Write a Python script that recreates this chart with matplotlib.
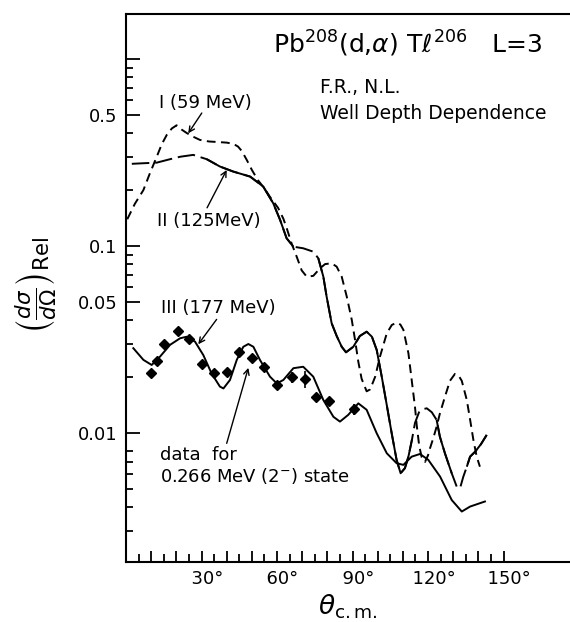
import numpy as np
import matplotlib.pyplot as plt
from matplotlib.ticker import FixedLocator, NullFormatter

# curve I : 59 MeV well depth (dashed)
theta_59 = [0.5, 3.5, 6.9, 9.5, 12.2, 14.2, 16.2, 18.2, 20.1, 22.0, 24.1, 26.5, 29.4,
            33.0, 36.0, 40.0, 42.6, 44.5, 46.0, 48.0, 50.0, 52.4, 55.0, 57.2, 60.4,
            62.5, 63.8, 65.8, 67.8, 69.8, 71.8, 74.4, 77.1, 79.1, 81.7, 83.7, 85.7,
            87.7, 89.7, 91.0, 92.3, 93.6, 95.6, 97.0, 99.0, 100.9, 103.6, 105.6,
            107.5, 109.0, 110.2, 112.2, 113.5, 114.8, 115.5, 116.5, 117.5, 118.8,
            120.0, 120.8, 122.1, 123.4, 124.7, 126.7, 128.7, 130.7, 132.2, 133.4,
            135.4, 136.7, 138.0, 139.3, 140.6]
sigma_59 = [0.139, 0.168, 0.199, 0.245, 0.300, 0.350, 0.393, 0.425, 0.442, 0.420, 0.402,
            0.385, 0.369, 0.362, 0.360, 0.357, 0.352, 0.340, 0.322, 0.288, 0.255, 0.225,
            0.203, 0.183, 0.160, 0.140, 0.125, 0.103, 0.0877, 0.0740, 0.0685, 0.0692,
            0.0760, 0.0800, 0.0808, 0.0775, 0.0685, 0.0536, 0.0402, 0.0314, 0.0240,
            0.0195, 0.0167, 0.0171, 0.0200, 0.0256, 0.0341, 0.0378, 0.0389, 0.0380,
            0.0356, 0.0267, 0.0192, 0.0138, 0.0110, 0.0085, 0.0074, 0.0070, 0.0076,
            0.0083, 0.0094, 0.0108, 0.0127, 0.0156, 0.0190, 0.0207, 0.0202, 0.0190,
            0.0150, 0.0118, 0.0092, 0.0075, 0.0066]

# curve II : 125 MeV well depth (long dashes / solid)
theta_125 = [2.3, 7.0, 12.2, 17.0, 21.5, 26.7, 32.1, 37.3, 42.6, 49.3, 54.5, 58.5, 61.2,
             63.8, 66.5, 70.4, 74.4, 76.4, 78.4, 79.7, 81.7, 83.7, 85.7, 87.4, 90.3,
             92.9, 95.6, 97.7, 99.6, 101.6, 103.6, 105.6, 107.5, 109.1, 110.8, 112.2,
             113.6, 114.8, 116.4, 118.0, 119.5, 121.5, 123.4, 124.7, 126.7, 129.4,
             131.4, 132.7, 134.0, 135.4, 136.7, 138.7, 141.0, 143.3]
sigma_125 = [0.275, 0.277, 0.279, 0.290, 0.300, 0.307, 0.291, 0.266, 0.250, 0.235, 0.208,
             0.169, 0.138, 0.110, 0.0991, 0.0972, 0.0932, 0.0859, 0.0685, 0.0536, 0.0386,
             0.0330, 0.0289, 0.0270, 0.0289, 0.0330, 0.0348, 0.0327, 0.0278, 0.0200,
             0.0141, 0.00988, 0.00718, 0.00609, 0.00648, 0.00747, 0.0092, 0.0113,
             0.0129, 0.0134, 0.01355, 0.0129, 0.01175, 0.00955, 0.00779, 0.00609,
             0.00516, 0.00506, 0.00583, 0.0066, 0.00747, 0.00794, 0.0087, 0.00976]
solid_125 = [(32.1, 66.5), (76.4, 113.6), (123.4, 129.4), (135.4, 143.3)]

# curve III : 177 MeV well depth (solid)
theta_177 = [2.9, 6.9, 10.2, 13.5, 17.5, 21.5, 24.1, 27.4, 30.7, 34.0, 37.3, 38.7, 41.3,
             44.0, 46.6, 48.6, 50.6, 53.2, 57.2, 59.9, 62.5, 66.5, 70.4, 74.4, 78.4,
             82.4, 85.0, 88.3, 92.3, 95.6, 99.6, 103.6, 107.5, 110.2, 113.5, 116.8,
             120.1, 124.8, 129.4, 133.4, 136.7, 142.6]
sigma_177 = [0.0284, 0.0246, 0.0231, 0.0256, 0.0296, 0.0321, 0.0327, 0.0308, 0.0261,
             0.0208, 0.0177, 0.0173, 0.0192, 0.0246, 0.0289, 0.0299, 0.0289, 0.0246,
             0.0200, 0.0184, 0.0192, 0.0222, 0.0226, 0.0200, 0.0150, 0.0122, 0.0115,
             0.0125, 0.0144, 0.0133, 0.00996, 0.00779, 0.00689, 0.00675, 0.00747,
             0.00772, 0.00718, 0.00584, 0.00438, 0.00380, 0.00404, 0.00430]

# measured points, 0.266 MeV (2-) state
theta_data = [10, 12.5, 15, 20.5, 25, 30, 35, 40, 45, 50, 55, 60, 66, 71, 75.5, 80.5, 90.5]
sigma_data = [0.0210, 0.0243, 0.0299, 0.0351, 0.0317, 0.0234, 0.0210, 0.0213, 0.0270,
              0.0253, 0.0226, 0.0181, 0.0198, 0.0194, 0.0155, 0.0148, 0.0134]
rel_err = [0.04, 0.04, 0.04, 0.04, 0.04, 0.04, 0.04, 0.04, 0.04, 0.05, 0.04, 0.05,
           0.07, 0.10, 0.05, 0.05, 0.07]

y_major = [0.01, 0.05, 0.1, 0.5, 1.0]
y_major_labels = ['0.01', '0.05', '0.1', '0.5', '']
y_minor = [0.003, 0.004, 0.005, 0.006, 0.007, 0.008, 0.02, 0.03, 0.04,
           0.06, 0.07, 0.08, 0.09, 0.2, 0.3, 0.4, 0.6, 0.7, 0.8, 0.9]

fig = plt.figure(figsize=(5.7, 6.22), dpi=100)
ax = fig.add_axes([0.2211, 0.0965, 0.7789, 0.881])

lw = 1.4
ax.plot(theta_59, sigma_59, color='black', lw=lw, linestyle=(0, (4.5, 2.8)))

t125 = np.array(theta_125)
s125 = np.array(sigma_125)
ax.plot(t125, s125, color='black', lw=lw, linestyle=(0, (9, 3)))
for lo, hi in solid_125:
    m = (t125 >= lo) & (t125 <= hi)
    ax.plot(t125[m], s125[m], color='black', lw=lw, solid_capstyle='butt')

ax.plot(theta_177, sigma_177, color='black', lw=lw)

s_data = np.array(sigma_data)
ax.errorbar(theta_data, s_data, yerr=s_data * np.array(rel_err), fmt='D',
            color='black', ms=5.5, elinewidth=1.2, capsize=0)

ax.set_yscale('log')
ax.set_xlim(0, 176.4)
ax.set_ylim(0.002042, 1.74)

ax.xaxis.set_major_locator(FixedLocator(range(10, 151, 10)))
ax.xaxis.set_minor_locator(FixedLocator(range(5, 150, 10)))
# leading spaces keep the digits, not the degree sign, centred on the tick
ax.set_xticklabels([f'  {t}°' if t % 30 == 0 else '' for t in range(10, 151, 10)])
ax.xaxis.set_minor_formatter(NullFormatter())

ax.yaxis.set_major_locator(FixedLocator(y_major))
ax.set_yticklabels(y_major_labels)
ax.yaxis.set_minor_locator(FixedLocator(y_minor))
ax.yaxis.set_minor_formatter(NullFormatter())

ax.tick_params(axis='x', which='major', direction='in', length=8, width=1.3,
               labelsize=13, pad=6)
ax.tick_params(axis='x', which='minor', direction='in', length=5.5, width=1.3)
ax.tick_params(axis='y', which='major', direction='in', length=10, width=1.3,
               labelsize=13, pad=6)
ax.tick_params(axis='y', which='minor', direction='in', length=5, width=1.3)

ax.spines['right'].set_visible(False)
for side in ('left', 'bottom', 'top'):
    ax.spines[side].set_linewidth(1.5)

ax.set_xlabel(r'$\theta_{\rm c.m.}$', fontsize=19, labelpad=3)
fig.text(36 / 570, 1 - 285 / 622,
         r'$\left(\frac{d\sigma}{d\Omega}\right)_{\rm Rel}$',
         rotation=90, fontsize=22, ha='center', va='center')

fig.text(273 / 570, 1 - 53 / 622,
         r'Pb$^{208}$(d,$\alpha$) T$\ell^{206}$   L=3', fontsize=18, va='baseline')
fig.text(320 / 570, 1 - 93 / 622, 'F.R., N.L.', fontsize=13.5, va='baseline')
fig.text(320 / 570, 1 - 119 / 622, 'Well Depth Dependence', fontsize=13.5,
         va='baseline')

arrow = dict(arrowstyle='->', color='black', lw=1.0, shrinkA=0, shrinkB=0)
ax.text(31.4, 0.585, 'I (59 MeV)', fontsize=13, ha='center', va='center')
ax.annotate('', xy=(24.7, 0.40), xytext=(30.1, 0.514), arrowprops=arrow)
ax.text(33.0, 0.136, 'II (125MeV)', fontsize=13, ha='center', va='center')
ax.annotate('', xy=(40.0, 0.255), xytext=(32.2, 0.160), arrowprops=arrow)
ax.text(36.6, 0.0465, 'III (177 MeV)', fontsize=13, ha='center', va='center')
ax.annotate('', xy=(28.7, 0.0298), xytext=(36.0, 0.0405), arrowprops=arrow)
ax.text(13.5, 0.0076, 'data  for', fontsize=13, ha='left', va='center')
ax.text(13.5, 0.0059, r'0.266 MeV (2$^{-}$) state', fontsize=13, ha='left',
        va='center')
ax.annotate('', xy=(48.6, 0.0223), xytext=(40.0, 0.0088), arrowprops=arrow)

fig.savefig('out.png', dpi=100)
